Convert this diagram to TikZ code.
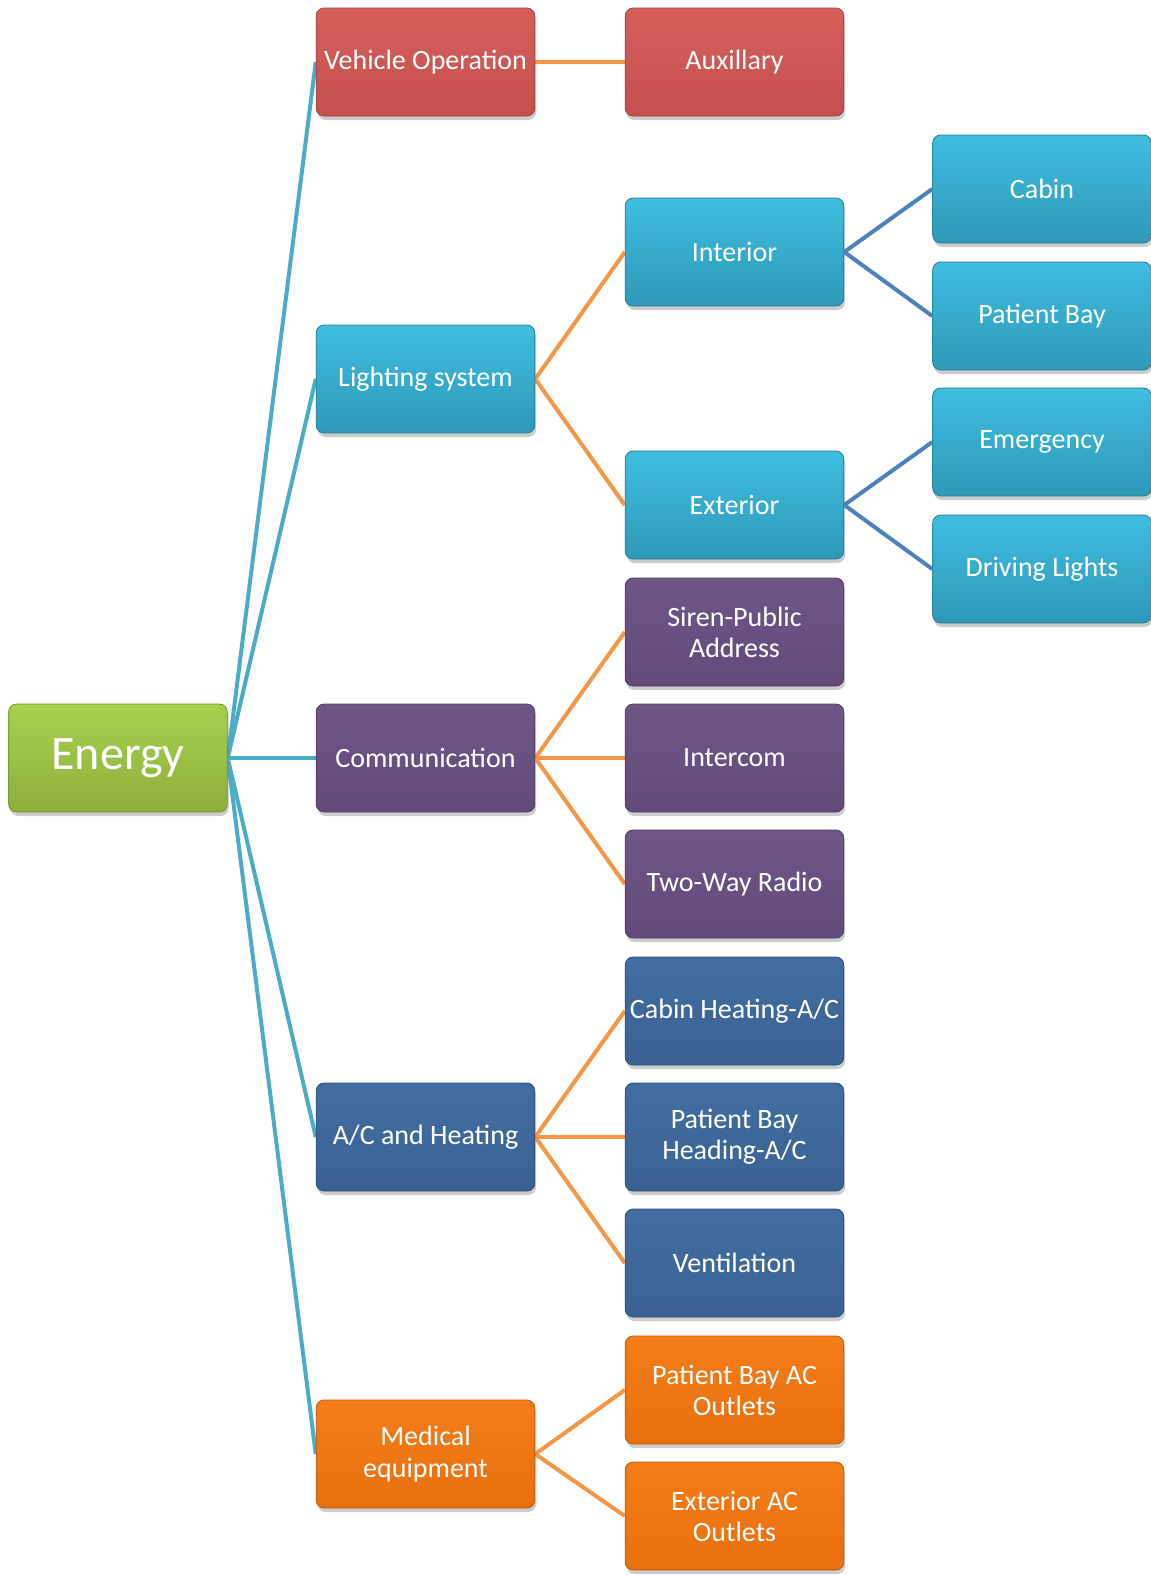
\documentclass[tikz,border=0pt]{standalone}
\usepackage{fontspec}
\setmainfont{Carlito}
\usetikzlibrary{shadows,backgrounds}
\definecolor{cTeal}{HTML}{4BACC6}
\definecolor{cOrangeLine}{HTML}{F79646}
\definecolor{cBlueLine}{HTML}{4F81BD}
\tikzset{
  box/.style={rounded corners=6pt, minimum width=164pt, minimum height=81pt,
    inner sep=1pt, align=center, text=white, font=\fontsize{21}{23.3}\selectfont,
    drop shadow={opacity=0.4, shadow xshift=1pt, shadow yshift=-3pt}},
  redbox/.style={box, top color=cRedT, bottom color=cRedB, draw=cRedB!80!black, line width=0.6pt},
  cyanbox/.style={box, top color=cCyanT, bottom color=cCyanB, draw=cCyanB!80!black, line width=0.6pt},
  purplebox/.style={box, top color=cPurT, bottom color=cPurB, draw=cPurB!80!black, line width=0.6pt},
  bluebox/.style={box, top color=cBluT, bottom color=cBluB, draw=cBluB!80!black, line width=0.6pt},
  orangebox/.style={box, top color=cOraT, bottom color=cOraB, draw=cOraB!80!black, line width=0.6pt},
  greenbox/.style={box, top color=cGreT, bottom color=cGreB, draw=cGreB!80!black, line width=0.6pt,
    font=\fontsize{36}{40}\selectfont},
  l1/.style={draw=cTeal, line width=3pt},
  l2/.style={draw=cOrangeLine, line width=3pt},
  l3/.style={draw=cBlueLine, line width=3pt},
}
\definecolor{cRedT}{HTML}{D65F5C}
\definecolor{cRedB}{HTML}{C4504D}
\definecolor{cCyanT}{HTML}{3FBEE0}
\definecolor{cCyanB}{HTML}{2F98B8}
\definecolor{cPurT}{HTML}{6E5686}
\definecolor{cPurB}{HTML}{624B7A}
\definecolor{cBluT}{HTML}{436DA2}
\definecolor{cBluB}{HTML}{3A6192}
\definecolor{cOraT}{HTML}{F47D1A}
\definecolor{cOraB}{HTML}{E8700F}
\definecolor{cGreT}{HTML}{A8D04F}
\definecolor{cGreB}{HTML}{8DB03C}
\begin{document}
\begin{tikzpicture}[x=0.75pt,y=-0.75pt]
\useasboundingbox (0,0) rectangle (1151,1575);
% level 0
\node[greenbox] (energy) at (118,758) {Energy};
% level 1
\node[redbox] (veh) at (425.5,62) {Vehicle Operation};
\node[cyanbox] (light) at (425.5,379) {Lighting system};
\node[purplebox] (comm) at (425.5,758) {Communication};
\node[bluebox] (ac) at (425.5,1137) {A/C and Heating};
\node[orangebox] (med) at (425.5,1454) {Medical\\equipment};
% level 2
\node[redbox] (aux) at (734.5,62) {Auxillary};
\node[cyanbox] (int) at (734.5,252) {Interior};
\node[cyanbox] (ext) at (734.5,505) {Exterior};
\node[purplebox] (siren) at (734.5,632) {Siren-Public\\Address};
\node[purplebox] (inter) at (734.5,758) {Intercom};
\node[purplebox] (radio) at (734.5,884) {Two-Way Radio};
\node[bluebox] (cabh) at (734.5,1011) {Cabin Heating-A/C};
\node[bluebox] (pbh) at (734.5,1137) {Patient Bay\\Heading-A/C};
\node[bluebox] (vent) at (734.5,1263) {Ventilation};
\node[orangebox] (pbac) at (734.5,1390) {Patient Bay AC\\Outlets};
\node[orangebox] (exac) at (734.5,1516) {Exterior AC\\Outlets};
% level 3
\node[cyanbox] (cabin) at (1042,189) {Cabin};
\node[cyanbox] (pbay) at (1042,316) {Patient Bay};
\node[cyanbox] (emer) at (1042,442) {Emergency};
\node[cyanbox] (drive) at (1042,569) {Driving Lights};
% connectors
\begin{scope}[on background layer]
\foreach \t in {veh,light,comm,ac,med} \draw[l1] (energy.east) -- (\t.west);
\draw[l2] (veh.east) -- (aux.west);
\foreach \t in {int,ext} \draw[l2] (light.east) -- (\t.west);
\foreach \t in {siren,inter,radio} \draw[l2] (comm.east) -- (\t.west);
\foreach \t in {cabh,pbh,vent} \draw[l2] (ac.east) -- (\t.west);
\foreach \t in {pbac,exac} \draw[l2] (med.east) -- (\t.west);
\foreach \t in {cabin,pbay} \draw[l3] (int.east) -- (\t.west);
\foreach \t in {emer,drive} \draw[l3] (ext.east) -- (\t.west);
\end{scope}
\end{tikzpicture}
\end{document}
